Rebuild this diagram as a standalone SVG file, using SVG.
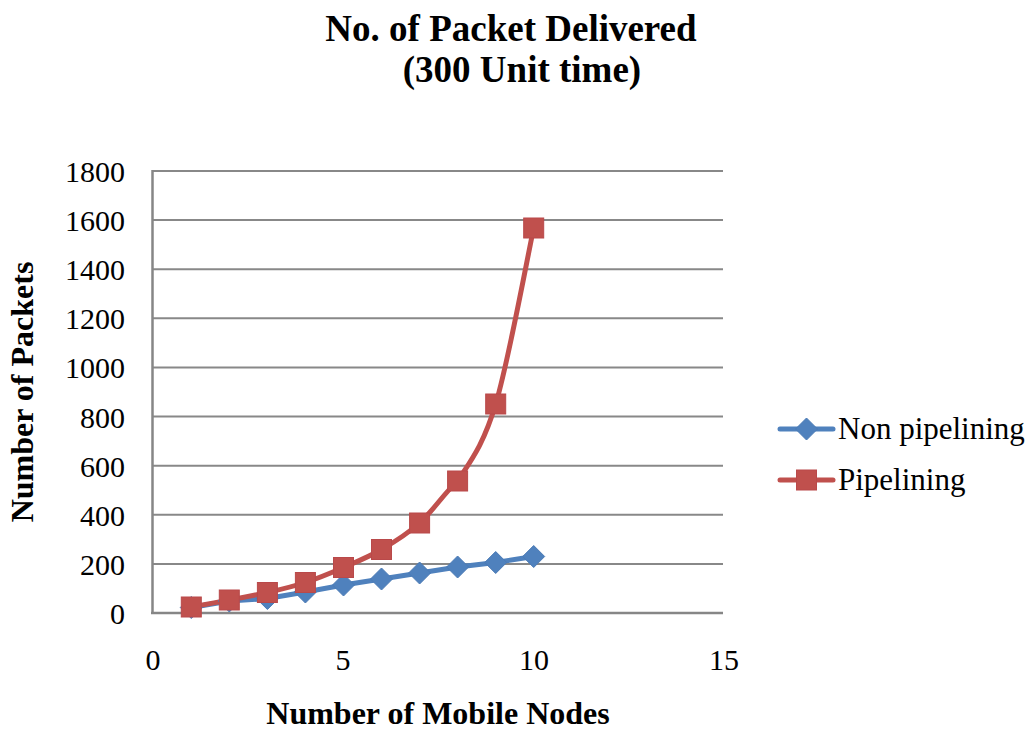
<svg xmlns="http://www.w3.org/2000/svg" width="1035" height="731" viewBox="0 0 1035 731">
  <style>
    .title { font-family: "Liberation Serif", "Times New Roman", serif; font-weight: bold; font-size: 37px; fill: #000; text-anchor: middle; }
    .axis-title { font-family: "Liberation Serif", "Times New Roman", serif; font-weight: bold; font-size: 32px; fill: #000; text-anchor: middle; }
    .tick { font-family: "Liberation Serif", "Times New Roman", serif; font-size: 30px; fill: #000; }
    .ytick { text-anchor: end; }
    .xtick { text-anchor: middle; }
    .legend { font-family: "Liberation Serif", "Times New Roman", serif; font-size: 31px; fill: #000; }
    .grid { stroke: #888888; stroke-width: 2; fill: none; }
    .axis { stroke: #868686; stroke-width: 2.5; fill: none; }
    .s-blue { stroke: #4F81BD; stroke-width: 5; fill: none; stroke-linejoin: round; stroke-linecap: round; }
    .s-red { stroke: #C0504D; stroke-width: 5; fill: none; stroke-linejoin: round; stroke-linecap: round; }
    .m-blue { fill: #4F81BD; stroke: #4A7AB5; stroke-width: 1; }
    .m-red { fill: #C0504D; stroke: #B9494A; stroke-width: 1; }
  </style>
  <defs>
    <path id="diamond" d="M0,-11 L11,0 L0,11 L-11,0 Z"/>
    <rect id="square" x="-10" y="-10" width="20" height="20"/>
  </defs>

  <rect width="1035" height="731" fill="#ffffff"/>

  <!-- chart title -->
  <g id="title">
    <text class="title" x="511" y="41">No. of Packet Delivered</text>
    <text class="title" x="522" y="82">(300 Unit time)</text>
  </g>

  <!-- horizontal gridlines every 200 -->
  <g id="gridlines">
    <line class="grid" x1="152" y1="171" x2="723" y2="171"/>
    <line class="grid" x1="152" y1="220.1" x2="723" y2="220.1"/>
    <line class="grid" x1="152" y1="269.2" x2="723" y2="269.2"/>
    <line class="grid" x1="152" y1="318.3" x2="723" y2="318.3"/>
    <line class="grid" x1="152" y1="367.4" x2="723" y2="367.4"/>
    <line class="grid" x1="152" y1="416.6" x2="723" y2="416.6"/>
    <line class="grid" x1="152" y1="465.7" x2="723" y2="465.7"/>
    <line class="grid" x1="152" y1="514.8" x2="723" y2="514.8"/>
    <line class="grid" x1="152" y1="563.9" x2="723" y2="563.9"/>
  </g>

  <!-- axes -->
  <g id="axes">
    <line class="axis" x1="152.5" y1="170" x2="152.5" y2="614"/>
    <line class="axis" x1="151" y1="613" x2="723" y2="613"/>
  </g>

  <!-- y tick labels -->
  <g id="y-ticks" class="tick ytick">
    <text x="125" y="182">1800</text>
    <text x="125" y="231">1600</text>
    <text x="125" y="280">1400</text>
    <text x="125" y="329">1200</text>
    <text x="125" y="378">1000</text>
    <text x="125" y="428">800</text>
    <text x="125" y="477">600</text>
    <text x="125" y="526">400</text>
    <text x="125" y="575">200</text>
    <text x="125" y="624">0</text>
  </g>

  <!-- x tick labels -->
  <g id="x-ticks" class="tick xtick">
    <text x="153" y="670">0</text>
    <text x="343" y="670">5</text>
    <text x="534" y="670">10</text>
    <text x="724" y="670">15</text>
  </g>

  <!-- axis titles -->
  <g id="axis-titles">
    <text class="axis-title" x="438" y="724">Number of Mobile Nodes</text>
    <text class="axis-title" transform="translate(33,392) rotate(-90)" x="0" y="0">Number of Packets</text>
  </g>

  <!-- data series lines -->
  <g id="series-lines">
    <path class="s-blue" d="M191.3,607.5 L229.3,601 L267.4,598.5 L305.4,592 L343.5,585 L381.5,579 L419.6,573 L457.6,567 L495.7,562.5 L533.7,556.5"/>
    <path class="s-red" d="M191.3,607 C197.6,605.8 216.6,602.4 229.3,600 C242.0,597.6 254.7,595.4 267.4,592.5 C280.1,589.6 292.7,586.7 305.4,582.5 C318.1,578.3 330.8,573.0 343.5,567.5 C356.2,562.0 368.8,556.9 381.5,549.5 C394.2,542.1 406.9,534.4 419.6,523 C432.3,511.6 444.9,492.4 457.6,481 C470.3,461.2 483.0,446.2 495.7,404 C508.4,361.8 527.4,257.3 533.7,228"/>
  </g>

  <!-- Non pipelining markers -->
  <g id="series-non-pipelining" class="m-blue">
    <use href="#diamond" x="191.3" y="607.5"/>
    <use href="#diamond" x="229.3" y="601"/>
    <use href="#diamond" x="267.4" y="598.5"/>
    <use href="#diamond" x="305.4" y="592"/>
    <use href="#diamond" x="343.5" y="585"/>
    <use href="#diamond" x="381.5" y="579"/>
    <use href="#diamond" x="419.6" y="573"/>
    <use href="#diamond" x="457.6" y="567"/>
    <use href="#diamond" x="495.7" y="562.5"/>
    <use href="#diamond" x="533.7" y="556.5"/>
  </g>

  <!-- Pipelining markers -->
  <g id="series-pipelining" class="m-red">
    <use href="#square" x="191.3" y="607"/>
    <use href="#square" x="229.3" y="600"/>
    <use href="#square" x="267.4" y="592.5"/>
    <use href="#square" x="305.4" y="582.5"/>
    <use href="#square" x="343.5" y="567.5"/>
    <use href="#square" x="381.5" y="549.5"/>
    <use href="#square" x="419.6" y="523"/>
    <use href="#square" x="457.6" y="481"/>
    <use href="#square" x="495.7" y="404"/>
    <use href="#square" x="533.7" y="228"/>
  </g>

  <!-- legend -->
  <g id="legend">
    <g id="legend-non-pipelining">
      <line class="s-blue" x1="780" y1="429" x2="833" y2="429"/>
      <use href="#diamond" class="m-blue" x="806.5" y="429"/>
      <text class="legend" x="838" y="439">Non pipelining</text>
    </g>
    <g id="legend-pipelining">
      <line class="s-red" x1="780" y1="480" x2="833" y2="480"/>
      <use href="#square" class="m-red" x="806.5" y="480"/>
      <text class="legend" x="838" y="490">Pipelining</text>
    </g>
  </g>
</svg>
